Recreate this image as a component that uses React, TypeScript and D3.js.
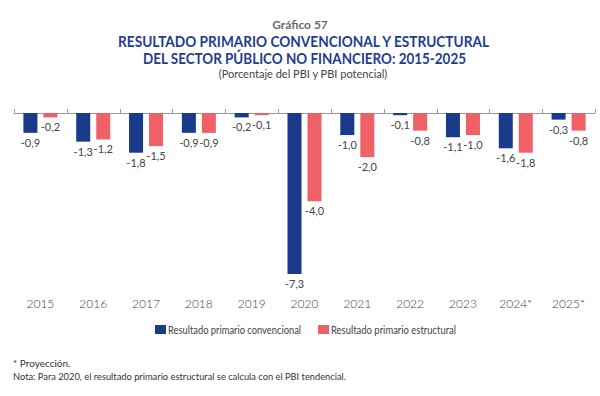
import React, { useEffect, useRef } from 'react';
import * as d3 from 'd3';

const years = ['2015', '2016', '2017', '2018', '2019', '2020', '2021', '2022', '2023', '2024*', '2025*'];
const convencional = [-0.9, -1.3, -1.8, -0.9, -0.2, -7.3, -1.0, -0.1, -1.1, -1.6, -0.3];
const estructural = [-0.2, -1.2, -1.5, -0.9, -0.1, -4.0, -2.0, -0.8, -1.0, -1.8, -0.8];
const seriesNames = ['Resultado primario convencional', 'Resultado primario estructural'];
const colors = ['#1a3a8b', '#f06167'];

const FONT = 'Lato, "Open Sans", sans-serif';

const App = () => {
  const svgRef = useRef<SVGSVGElement>(null);

  useEffect(() => {
    const svg = d3.select(svgRef.current);
    svg.selectAll('*').remove();

    const x = d3.scaleBand().domain(years).range([14, 595]);
    const y = d3.scaleLinear().domain([0, -7.3]).range([113, 274]);

    const fmt = (v: number) => d3.format('.1f')(v).replace('.', ',').replace('−', '-');

    // titles
    svg.append('text').attr('x', 300).attr('y', 29).attr('text-anchor', 'middle')
      .style('font-family', FONT).style('font-size', '12px').style('font-weight', 700)
      .attr('fill', '#6b6b6b').text('Gráfico 57');
    svg.append('text').attr('x', 303.5).attr('y', 47).attr('text-anchor', 'middle')
      .attr('textLength', 371).attr('lengthAdjust', 'spacingAndGlyphs')
      .style('font-family', FONT).style('font-size', '14.5px').style('font-weight', 700)
      .attr('fill', '#1f3d8f').text('RESULTADO PRIMARIO CONVENCIONAL Y ESTRUCTURAL');
    svg.append('text').attr('x', 304.5).attr('y', 64).attr('text-anchor', 'middle')
      .attr('textLength', 323).attr('lengthAdjust', 'spacingAndGlyphs')
      .style('font-family', FONT).style('font-size', '14.5px').style('font-weight', 700)
      .attr('fill', '#1f3d8f').text('DEL SECTOR PÚBLICO NO FINANCIERO: 2015-2025');
    svg.append('text').attr('x', 303).attr('y', 77.5).attr('text-anchor', 'middle')
      .style('font-family', FONT).style('font-size', '11px')
      .attr('fill', '#444').text('(Porcentaje del PBI y PBI potencial)');

    // axis line with ticks at band boundaries
    const axis = svg.append('g').attr('stroke', '#9a9a9a').attr('stroke-width', 1);
    axis.append('line').attr('x1', 14).attr('x2', 595).attr('y1', y(0) + 0.5).attr('y2', y(0) + 0.5);
    const bounds = years.map(d => x(d) as number).concat([595]);
    axis.selectAll('.tick').data(bounds).enter().append('line')
      .attr('x1', d => Math.round(d) + 0.5).attr('x2', d => Math.round(d) + 0.5)
      .attr('y1', y(0) - 4).attr('y2', y(0));

    const barW = 14;
    const offsets = [-17, 3];
    [convencional, estructural].forEach((vals, s) => {
      const g = svg.append('g');
      g.selectAll('rect').data(vals).enter().append('rect')
        .attr('x', (d, i) => (x(years[i]) as number) + x.bandwidth() / 2 + offsets[s])
        .attr('y', y(0))
        .attr('width', barW)
        .attr('height', d => y(d) - y(0))
        .attr('fill', colors[s]);
      g.selectAll('text').data(vals).enter().append('text')
        .attr('x', (d, i) => (x(years[i]) as number) + x.bandwidth() / 2 + offsets[s] + barW / 2)
        .attr('y', d => y(d) + 14)
        .attr('text-anchor', 'middle')
        .style('font-family', FONT).style('font-size', '11px')
        .attr('fill', '#444').text(d => fmt(d));
    });

    // year labels
    svg.append('g').selectAll('text').data(years).enter().append('text')
      .attr('x', d => (x(d) as number) + x.bandwidth() / 2)
      .attr('y', 308)
      .attr('text-anchor', 'middle')
      .style('font-family', FONT).style('font-size', '12px').style('font-weight', 300)
      .attr('fill', '#444').text(d => d);

    // legend
    const legendX = [155, 318];
    const legendW = [133, 125];
    seriesNames.forEach((name, i) => {
      svg.append('rect').attr('x', legendX[i]).attr('y', 325).attr('width', 11).attr('height', 9)
        .attr('fill', colors[i]);
      svg.append('text').attr('x', legendX[i] + 13).attr('y', 333.5)
        .attr('textLength', legendW[i]).attr('lengthAdjust', 'spacingAndGlyphs')
        .style('font-family', FONT).style('font-size', '10.5px')
        .attr('fill', '#444').text(name);
    });

    // notes
    svg.append('text').attr('x', 13).attr('y', 367)
      .style('font-family', FONT).style('font-size', '10px')
      .attr('fill', '#333').text('* Proyección.');
    svg.append('text').attr('x', 13).attr('y', 380)
      .attr('textLength', 333).attr('lengthAdjust', 'spacingAndGlyphs')
      .style('font-family', FONT).style('font-size', '10px')
      .attr('fill', '#333').text('Nota: Para 2020, el resultado primario estructural se calcula con el PBI tendencial.');
  }, []);

  return (
    <div style={{ position: 'absolute', left: 0, top: 0 }}>
      <svg ref={svgRef} width={600} height={396} style={{ display: 'block', background: '#fff' }}></svg>
    </div>
  );
};

export default App;
